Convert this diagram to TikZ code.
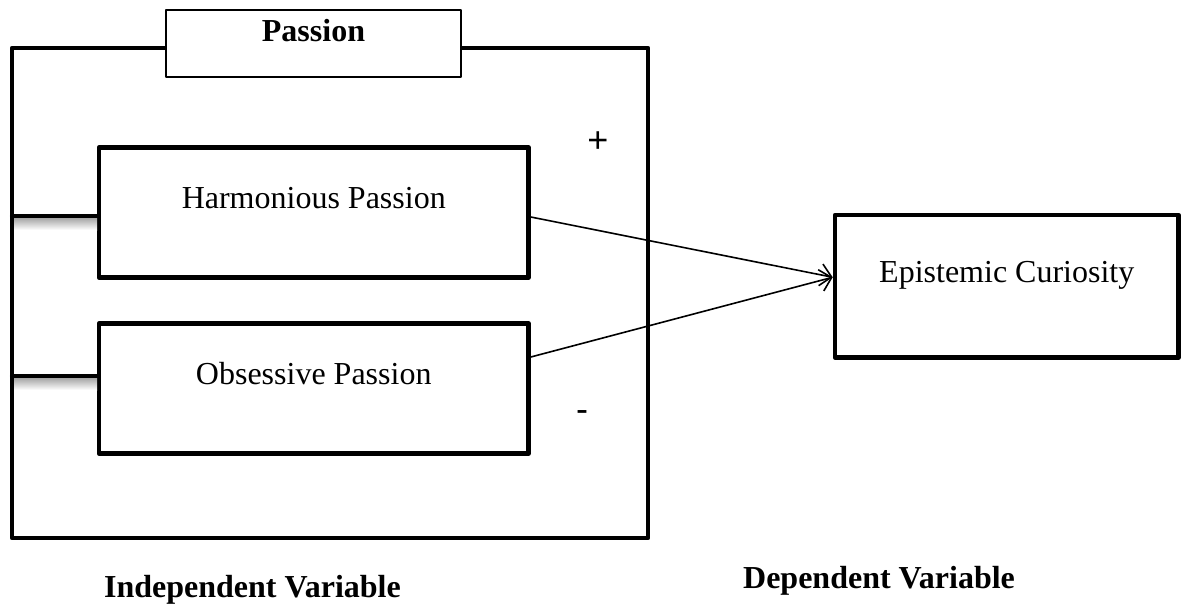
\documentclass[tikz,border=0pt]{standalone}
\usepackage{fontspec}
\setmainfont{Liberation Serif}
\newfontfamily\signfont{Liberation Sans}
\usetikzlibrary{arrows.meta}

\begin{document}
\begin{tikzpicture}
	[x=0.5pt,y=-0.5pt,line cap=round,line join=round,
	%Styles
	frame line/.style={line width=2.1pt},
	var box/.style={draw,line width=2.3pt,fill=white,minimum width=214.75pt,minimum height=65pt,inner sep=0pt},
	title box/.style={draw,line width=0.75pt,fill=white,minimum width=147.5pt,minimum height=33.5pt,inner sep=0pt},
	box text/.style={font=\fontsize{16}{19}\selectfont,inner sep=0pt},
	title text/.style={font=\fontsize{16}{19}\selectfont\bfseries,inner sep=0pt},
	heading/.style={font=\fontsize{16}{19}\selectfont\bfseries,inner sep=0pt,anchor=base},
	sign/.style={font=\signfont\fontsize{18}{21}\selectfont,inner sep=0pt},
	effect/.style={-{Straight Barb[length=5.5pt,width=11pt]},line width=0.8pt}
	]
	
	%Colors
	\colorlet{shadowcolor}{gray!70}
	
	\useasboundingbox (0,0) rectangle (1181,604);
	
	%The graphic
	\draw[frame line] (12,48) rectangle (648,538);
	\node[title box,label={[title text,yshift=6.5pt]center:Passion}] (passion) at (313.5,43.5) {};
	
	\node[var box,label={[box text,yshift=7pt]center:Harmonious Passion}] (harm) at (313.75,212.5) {};
	\node[var box,label={[box text,yshift=7.5pt]center:Obsessive Passion}] (obs) at (313.75,388.5) {};
	\node[var box,minimum width=171.75pt,minimum height=71.25pt,label={[box text,yshift=5.5pt]center:Epistemic Curiosity}] (epi) at (1006.75,286.25) {};
	
	%Links to the frame
	\coordinate (hlink) at (12,216);
	\coordinate (olink) at (12,376);
	\shade[top color=shadowcolor,bottom color=white] (14,218) rectangle (97,230);
	\shade[top color=shadowcolor,bottom color=white] (14,378) rectangle (97,390);
	\draw[frame line] (hlink) -- (hlink -| harm.west);
	\draw[frame line] (olink) -- (olink -| obs.west);
	
	%Effects
	\draw[effect] ([yshift=-2.25pt]harm.east) -- ([yshift=4.5pt]epi.west);
	\draw[effect] ([yshift=15.75pt]obs.east) -- ([yshift=4.5pt]epi.west);
	\node[sign] (plus) at (598,142) {+};
	\node[sign] (minus) at (582,416) {-};
	
	\node[heading] (indep) at (252.5,597) {Independent Variable};
	\node[heading] (dep) at (879,588) {Dependent Variable};
\end{tikzpicture}
\end{document}
